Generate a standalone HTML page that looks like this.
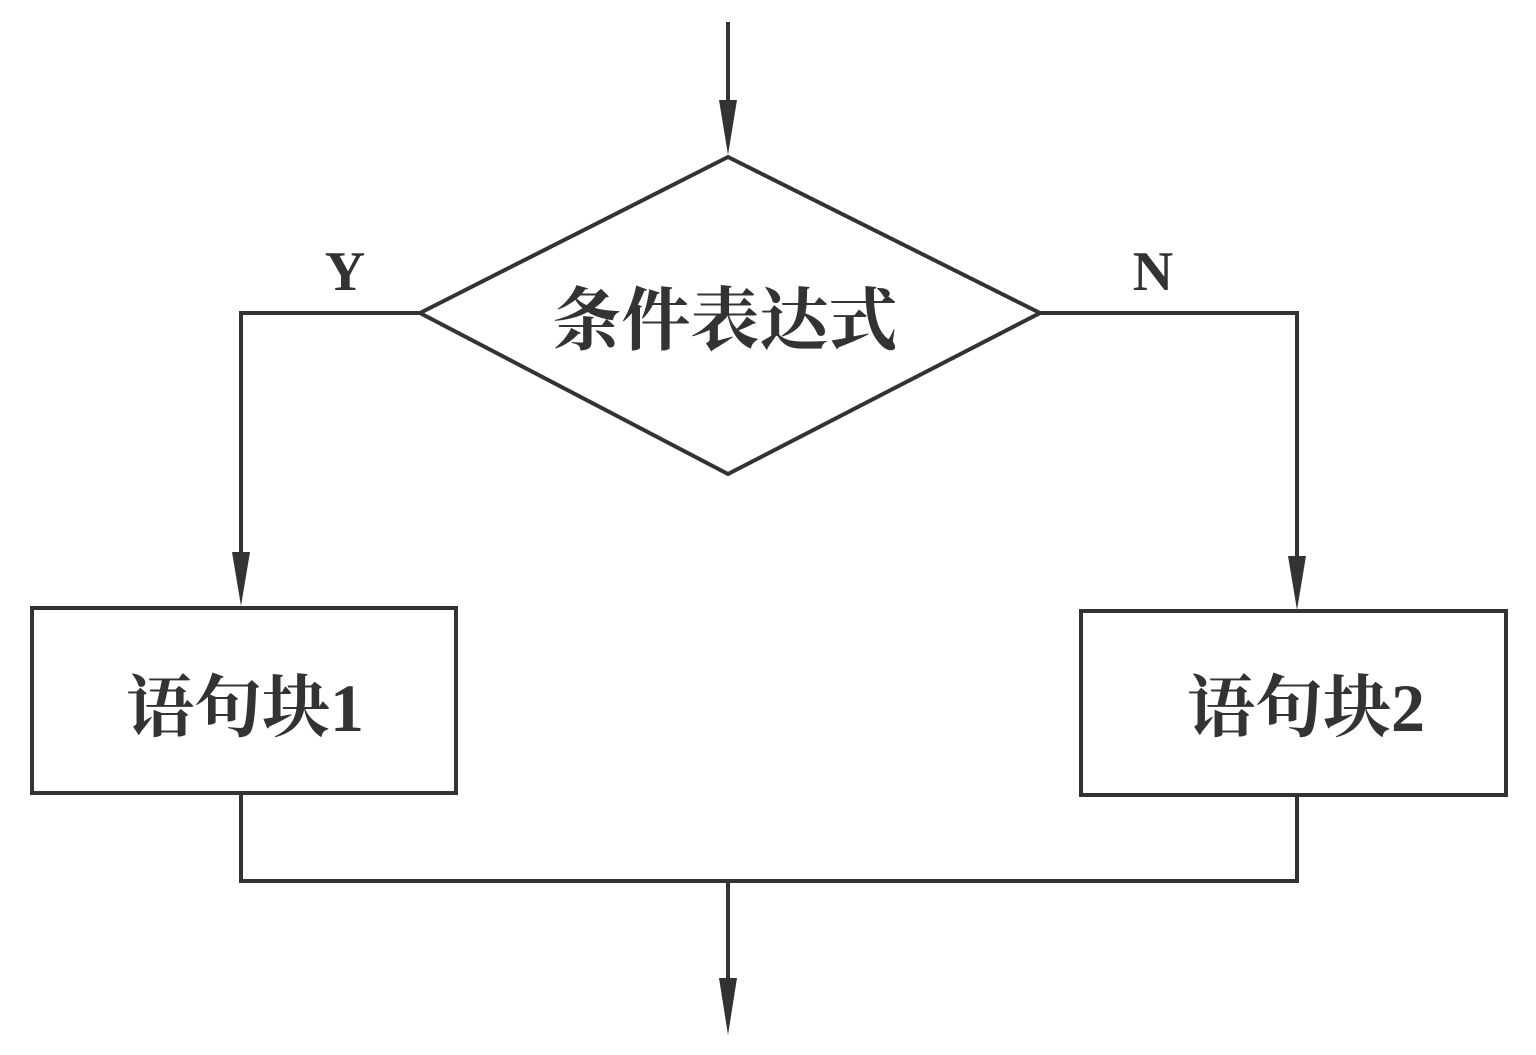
<!DOCTYPE html>
<html><head><meta charset="utf-8"><style>
html,body{margin:0;padding:0;background:#fff;}
svg{display:block;}
text{font-family:"Liberation Serif","Noto Serif CJK SC",serif;fill:#333;font-weight:bold;}
</style></head><body>
<svg width="1536" height="1055" viewBox="0 0 1536 1055" xmlns="http://www.w3.org/2000/svg">
<g stroke="#333" stroke-width="4" fill="none" stroke-linejoin="miter">
<line x1="728" y1="22" x2="728" y2="110"/>
<polygon points="728,157 420,313 728,474 1040,313"/>
<polyline points="420,313 241,313 241,560"/>
<polyline points="1040,313 1297,313 1297,565"/>
<rect x="32" y="608" width="424" height="185"/>
<rect x="1081" y="611" width="425" height="184"/>
<polyline points="241,793 241,881 1297,881 1297,795"/>
<line x1="728" y1="881" x2="728" y2="985"/>
</g>
<g fill="#333">
<polygon points="719,100 737,100 728,155"/>
<polygon points="232,552 250,552 241,606"/>
<polygon points="1288,556 1306,556 1297,610"/>
<polygon points="719,978 737,978 728,1035"/>
</g>
<text x="725" y="344" font-size="69" text-anchor="middle">条件表达式</text>
<text x="245" y="731" font-size="68" text-anchor="middle">语句块1</text>
<text x="1306" y="731" font-size="68" text-anchor="middle">语句块2</text>
<text x="345" y="290" font-size="56" text-anchor="middle">Y</text>
<text x="1153" y="290" font-size="56" text-anchor="middle">N</text>
</svg>
</body></html>
